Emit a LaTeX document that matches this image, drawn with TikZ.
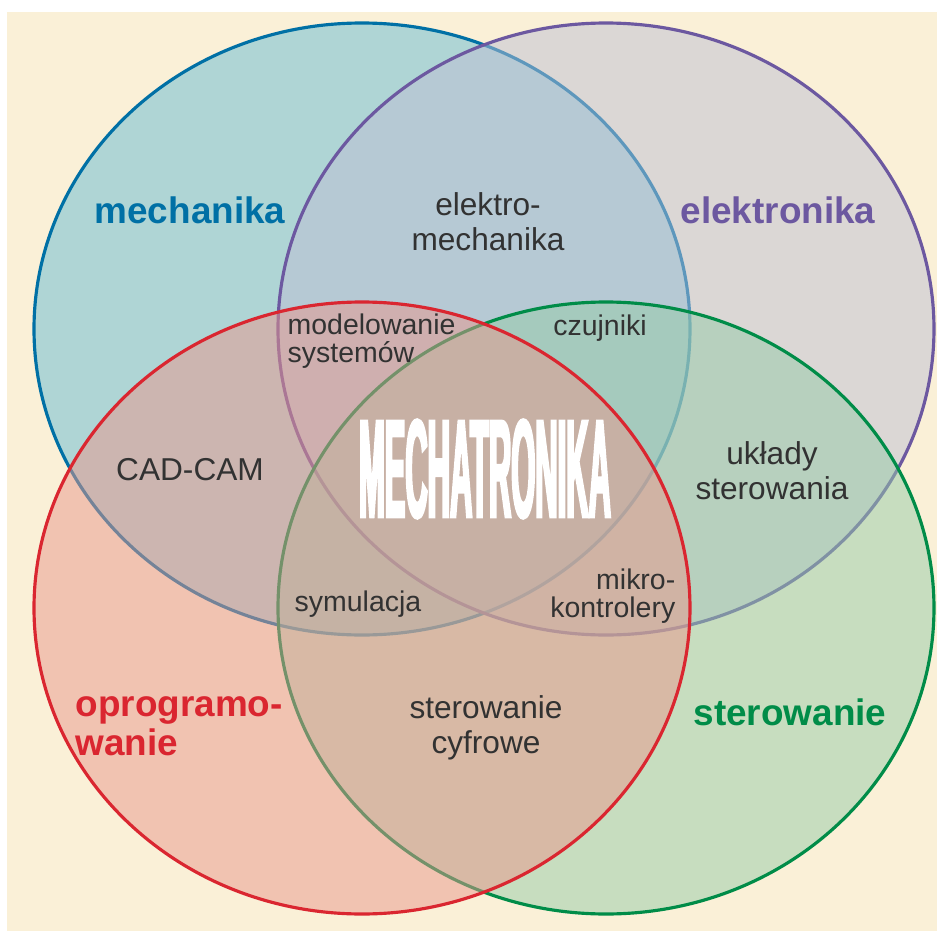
\documentclass[tikz,border=0pt]{standalone}
\usepackage{fontspec}
\setmainfont{Liberation Sans}
\newfontfamily\tallfont[FakeStretch=0.22,FakeBold=1.5]{Liberation Sans Bold}
\usepackage{xcolor}
\usetikzlibrary{shapes.geometric}
\definecolor{paper}{RGB}{250,240,215}
\definecolor{mechanika}{RGB}{0,112,165}
\definecolor{mechfill}{RGB}{101,187,212}
\definecolor{elektronika}{RGB}{108,88,160}
\definecolor{elekfill}{RGB}{189,191,212}
\definecolor{oprogramowanie}{RGB}{218,38,48}
\definecolor{oprofill}{RGB}{233,151,140}
\definecolor{sterowanie}{RGB}{0,140,72}
\definecolor{sterfill}{RGB}{149,203,168}
\definecolor{tekst}{RGB}{50,50,50}
\tikzstyle{field}=[ellipse, minimum width=6.56cm, minimum height=6.12cm, line width=.9pt, fill opacity=.5, draw opacity=1]
\tikzstyle{area}=[font=\bfseries\fontsize{10.5}{11}\selectfont]
\tikzstyle{overlap}=[text=tekst, font=\fontsize{9}{10}\selectfont, align=center]
\tikzstyle{small}=[font=\fontsize{8.1}{8}\selectfont]

\begin{document}
\begin{tikzpicture}
  \fill[paper] (0.07,0) rectangle (9.37,9.19);
  \useasboundingbox (0,0) rectangle (9.37,9.31);

  %% Fields
  \draw (3.62,6.02) node[field,draw=mechanika,fill=mechfill] (M) {};
  \draw (6.06,6.02) node[field,draw=elektronika,fill=elekfill] (E) {};
  \draw (6.06,3.23) node[field,draw=sterowanie,fill=sterfill] (S) {};
  \draw (3.62,3.23) node[field,draw=oprogramowanie,fill=oprofill] (O) {};

  %% Field names
  \draw (1.90,7.21) node[area,text=mechanika] (Mname) {mechanika};
  \draw (7.78,7.21) node[area,text=elektronika] (Ename) {elektronika};
  \draw (0.75,2.05) node[area,text=oprogramowanie,anchor=west,align=left,inner sep=0pt] (Oname) {oprogramo-\\wanie};
  \draw (7.90,2.19) node[area,text=sterowanie] (Sname) {sterowanie};

  %% Overlaps
  \draw (4.88,7.09) node[overlap] (ME) {elektro-\\mechanika};
  \draw (2.87,5.90) node[overlap,small,anchor=west,align=left,inner sep=0pt] (MO) {modelowanie\\systemów};
  \draw (6.00,6.03) node[overlap,small] (ES) {czujniki};
  \draw (1.90,4.61) node[overlap] (MO2) {CAD-CAM};
  \draw (7.72,4.60) node[overlap] (ES2) {układy\\sterowania};
  \draw (3.58,3.27) node[overlap,small] (MOS) {symulacja};
  \draw (6.76,3.35) node[overlap,small,anchor=east,align=right,inner sep=0pt] (EOS) {mikro-\\kontrolery};
  \draw (4.86,2.03) node[overlap] (OS) {sterowanie\\cyfrowe};

  %% Middle
  \draw (4.85,4.62) node[text=white,font=\tallfont\fontsize{40}{40}\selectfont] (MEOS) {MECHATRONIKA};
\end{tikzpicture}
\end{document}
